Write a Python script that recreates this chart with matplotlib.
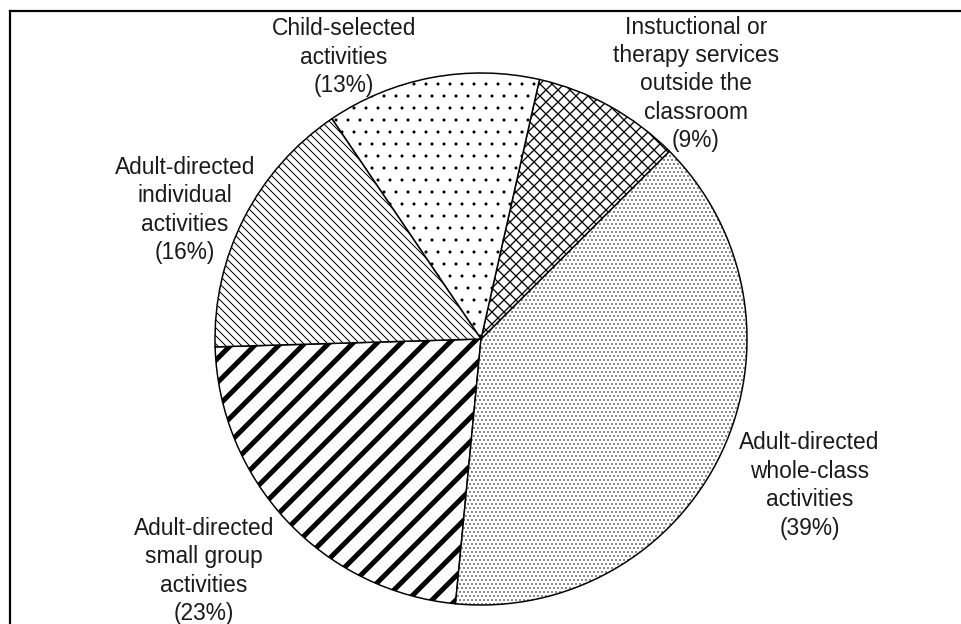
import matplotlib.pyplot as plt
from matplotlib.lines import Line2D

# slices, counter-clockwise from the left edge
names = ['Adult-directed\nsmall group\nactivities',
         'Adult-directed\nwhole-class\nactivities',
         'Instuctional or\ntherapy services\noutside the\nclassroom',
         'Child-selected\nactivities',
         'Adult-directed\nindividual\nactivities']
shares = [23, 39, 9, 13, 16]

hatches = ['/', '...', 'xx', '.', '\\\\\\']
hatch_lw = [5.0, 0.6, 1.3, 0.6, 1.0]
# where each label block sits (pie radius = 1)
label_xy = [(-1.041, -0.872), (1.235, -0.551), (0.808, 0.959),
            (-0.515, 1.060), (-1.113, 0.485)]

plt.rcParams['font.family'] = ['Liberation Sans', 'DejaVu Sans']

# dpi 72 -> 1 pt == 1 px
fig = plt.figure(figsize=(961 / 72, 624 / 72), dpi=72)
ax = fig.add_axes([0, 0, 1, 1])

wedges, _ = ax.pie(shares, startangle=181.7, counterclock=True, radius=1,
                   wedgeprops=dict(facecolor='white', edgecolor='black', linewidth=1.5))
for w, h, lw in zip(wedges, hatches, hatch_lw):
    w.set_hatch(h)
    if hasattr(w, 'set_hatch_linewidth'):
        w.set_hatch_linewidth(lw)

for name, v, (x, y) in zip(names, shares, label_xy):
    ax.text(x, y, f'{name}\n({v}%)', ha='center', va='center', fontsize=22.7,
            linespacing=1.3, color='#1a1a1a')

ax.set_xlim(-481 / 266, (961 - 481) / 266)
ax.set_ylim(-285 / 266, 339 / 266)
ax.set_aspect('auto')
ax.axis('off')

# frame (only top and left edges show)
fig.add_artist(Line2D([10 / 961, 10 / 961], [-0.1, 1 - 11 / 624], color='black', lw=2.2,
                      transform=fig.transFigure, solid_capstyle='projecting'))
fig.add_artist(Line2D([10 / 961, 1.1], [1 - 11 / 624, 1 - 11 / 624], color='black', lw=2.2,
                      transform=fig.transFigure, solid_capstyle='projecting'))

fig.savefig('out.png', dpi=72)
